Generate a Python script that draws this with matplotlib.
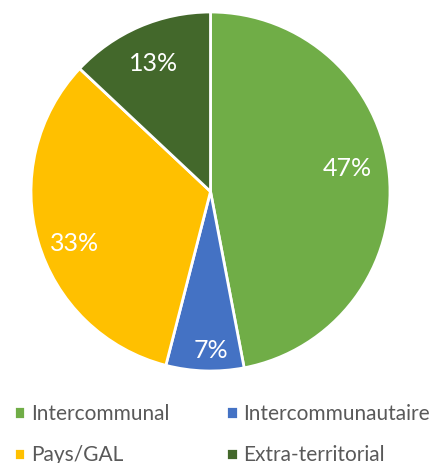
import matplotlib.pyplot as plt
import numpy as np

categories = ["Intercommunal", "Intercommunautaire", "Pays/GAL", "Extra-territorial"]
shares = [47, 7, 33, 13]
colors = ["#70AD47", "#4472C4", "#FFC000", "#43682B"]
# label placement: distance from centre (in radii) and angle nudge (deg)
label_dist = [0.776, 0.874, 0.807, 0.79]
label_nudge = [4.9, 1.8, 4.0, 0.3]

plt.rcParams['font.family'] = ['Lato', 'DejaVu Sans']

W, H = 434, 463
fig = plt.figure(figsize=(W / 100, H / 100), dpi=100)
cx, cy, r = 210.5, 191.5, 179.5
ax = fig.add_axes([(cx - r) / W, (H - cy - r) / H, 2 * r / W, 2 * r / H])

wedges, _ = ax.pie(shares, colors=colors, startangle=90, counterclock=False,
                   radius=1, wedgeprops=dict(edgecolor="white", linewidth=2))
ax.set_xlim(-1, 1)
ax.set_ylim(-1, 1)
ax.set_aspect("equal")
ax.axis("off")

for w, val, d, nudge in zip(wedges, shares, label_dist, label_nudge):
    mid = np.deg2rad((w.theta1 + w.theta2) / 2 + nudge)
    ax.text(d * np.cos(mid), d * np.sin(mid), "{}%".format(val),
            ha="center", va="center_baseline", color="white", fontsize=18)

# row-wise order for a 2-column legend
order = [0, 2, 1, 3]
fig.legend([wedges[i] for i in order], [categories[i] for i in order],
           ncol=2, loc="upper left",
           bbox_to_anchor=(14 / W, 1 - 404 / H), frameon=False,
           borderpad=0, borderaxespad=0,
           handlelength=0.55, handleheight=0.55, handletextpad=0.25,
           columnspacing=2.75, labelspacing=1.03, labelcolor="#595959",
           fontsize=15)

fig.savefig("out.png", dpi=100)
